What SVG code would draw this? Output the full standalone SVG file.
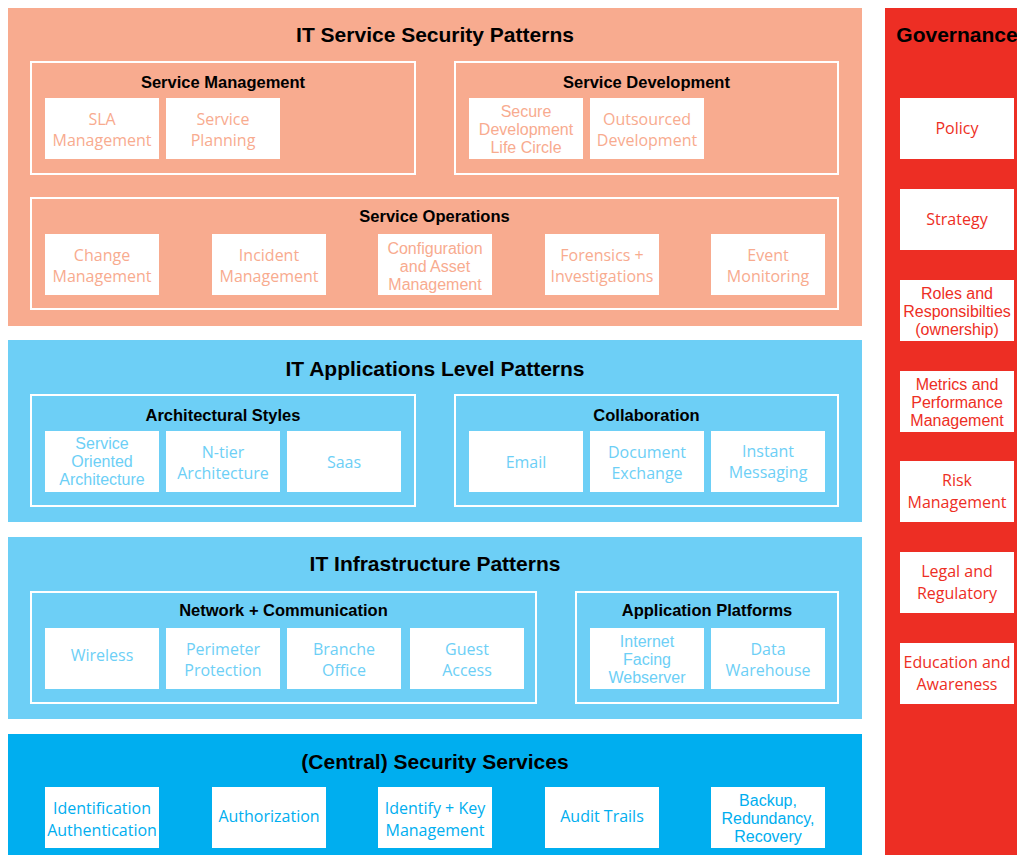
<svg xmlns="http://www.w3.org/2000/svg" width="1017" height="855" viewBox="0 0 1017 855">
<style>
.bg{fill:#ffffff}
.peach{fill:#f8ab8f}
.lblue{fill:#6dcff6}
.dblue{fill:#00aeef}
.red{fill:#ed2e24}
.cont{fill:none;stroke:#ffffff;stroke-width:2}
.box{fill:#ffffff}
.h1{font-family:"Liberation Sans",Arial,sans-serif;font-weight:bold;font-size:21px;fill:#000;text-anchor:middle}
.h2{font-family:"Liberation Sans",Arial,sans-serif;font-weight:bold;font-size:16.5px;fill:#000;text-anchor:middle}
.t{font-family:"Open Sans","Noto Sans",sans-serif;font-size:16px;text-anchor:middle}
.t3{font-family:"Liberation Sans",Arial,sans-serif;font-size:16px;text-anchor:middle}
.tp{fill:#f8ab8f}
.tl{fill:#6dcff6}
.td{fill:#00aeef}
.tr{fill:#ed2e24}
</style>
<rect class="bg" x="0" y="0" width="1017" height="855"/>

<!-- IT Service Security Patterns -->
<g id="it-service-security-patterns">
<rect class="peach" x="8" y="8" width="854" height="318"/>
<text class="h1" x="435" y="42">IT Service Security Patterns</text>
</g>
<g id="service-management">
<rect class="cont" x="31" y="62" width="384" height="112"/>
<text class="h2" x="223" y="88">Service Management</text>
</g>
<g id="sla-management"><rect class="box" x="45" y="98" width="114" height="61"/>
<text class="t tp" x="102" y="124.5">SLA<tspan x="102" dy="21">Management</tspan></text></g>
<g id="service-planning"><rect class="box" x="166" y="98" width="114" height="61"/>
<text class="t tp" x="223" y="124.5">Service<tspan x="223" dy="21">Planning</tspan></text></g>
<g id="service-development">
<rect class="cont" x="455" y="62" width="383" height="112"/>
<text class="h2" x="646.5" y="88">Service Development</text>
</g>
<g id="secure-development"><rect class="box" x="469" y="98" width="114" height="61"/>
<text class="t3 tp" x="526" y="116.5">Secure<tspan x="526" dy="18">Development</tspan><tspan x="526" dy="18">Life Circle</tspan></text></g>
<g id="outsourced-development"><rect class="box" x="590" y="98" width="114" height="61"/>
<text class="t tp" x="647" y="124.5">Outsourced<tspan x="647" dy="21">Development</tspan></text></g>
<g id="service-operations">
<rect class="cont" x="31" y="198" width="807" height="111"/>
<text class="h2" x="434.5" y="222">Service Operations</text>
</g>
<g id="change-management"><rect class="box" x="45" y="234" width="114" height="61"/>
<text class="t tp" x="102" y="260.5">Change<tspan x="102" dy="21.5">Management</tspan></text></g>
<g id="incident-management"><rect class="box" x="212" y="234" width="114" height="61"/>
<text class="t tp" x="269" y="260.5">Incident<tspan x="269" dy="21.5">Management</tspan></text></g>
<g id="configuration-asset-management"><rect class="box" x="378" y="234" width="114" height="61"/>
<text class="t3 tp" x="435" y="253.5">Configuration<tspan x="435" dy="18">and Asset</tspan><tspan x="435" dy="18">Management</tspan></text></g>
<g id="forensics-investigations"><rect class="box" x="545" y="234" width="114" height="61"/>
<text class="t tp" x="602" y="260.5">Forensics +<tspan x="602" dy="21.5">Investigations</tspan></text></g>
<g id="event-monitoring"><rect class="box" x="711" y="234" width="114" height="61"/>
<text class="t tp" x="768" y="260.5">Event<tspan x="768" dy="21.5">Monitoring</tspan></text></g>

<!-- IT Applications Level Patterns -->
<g id="it-applications-level-patterns">
<rect class="lblue" x="8" y="340" width="854" height="182"/>
<text class="h1" x="435" y="376">IT Applications Level Patterns</text>
</g>
<g id="architectural-styles">
<rect class="cont" x="31" y="395" width="384" height="111"/>
<text class="h2" x="223" y="421">Architectural Styles</text>
</g>
<g id="soa"><rect class="box" x="45" y="431" width="114" height="61"/>
<text class="t3 tl" x="102" y="449">Service<tspan x="102" dy="18">Oriented</tspan><tspan x="102" dy="18">Architecture</tspan></text></g>
<g id="n-tier"><rect class="box" x="166" y="431" width="114" height="61"/>
<text class="t tl" x="223" y="457.5">N-tier<tspan x="223" dy="21">Architecture</tspan></text></g>
<g id="saas"><rect class="box" x="287" y="431" width="114" height="61"/>
<text class="t tl" x="344" y="467.5">Saas</text></g>
<g id="collaboration">
<rect class="cont" x="455" y="395" width="383" height="111"/>
<text class="h2" x="646.5" y="421">Collaboration</text>
</g>
<g id="email"><rect class="box" x="469" y="431" width="114" height="61"/>
<text class="t tl" x="526" y="467.5">Email</text></g>
<g id="document-exchange"><rect class="box" x="590" y="431" width="114" height="61"/>
<text class="t tl" x="647" y="457.5">Document<tspan x="647" dy="21">Exchange</tspan></text></g>
<g id="instant-messaging"><rect class="box" x="711" y="431" width="114" height="61"/>
<text class="t tl" x="768" y="457">Instant<tspan x="768" dy="21">Messaging</tspan></text></g>

<!-- IT Infrastructure Patterns -->
<g id="it-infrastructure-patterns">
<rect class="lblue" x="8" y="537" width="854" height="182"/>
<text class="h1" x="435" y="571">IT Infrastructure Patterns</text>
</g>
<g id="network-communication">
<rect class="cont" x="31" y="592" width="505" height="111"/>
<text class="h2" x="283.5" y="616">Network + Communication</text>
</g>
<g id="wireless"><rect class="box" x="45" y="628" width="114" height="61"/>
<text class="t tl" x="102" y="661">Wireless</text></g>
<g id="perimeter-protection"><rect class="box" x="166" y="628" width="114" height="61"/>
<text class="t tl" x="223" y="655">Perimeter<tspan x="223" dy="21">Protection</tspan></text></g>
<g id="branche-office"><rect class="box" x="287" y="628" width="114" height="61"/>
<text class="t tl" x="344" y="655">Branche<tspan x="344" dy="21">Office</tspan></text></g>
<g id="guest-access"><rect class="box" x="410" y="628" width="114" height="61"/>
<text class="t tl" x="467" y="655">Guest<tspan x="467" dy="21">Access</tspan></text></g>
<g id="application-platforms">
<rect class="cont" x="576" y="592" width="262" height="111"/>
<text class="h2" x="707" y="616">Application Platforms</text>
</g>
<g id="internet-facing-webserver"><rect class="box" x="590" y="628" width="114" height="61"/>
<text class="t3 tl" x="647" y="647">Internet<tspan x="647" dy="18">Facing</tspan><tspan x="647" dy="18">Webserver</tspan></text></g>
<g id="data-warehouse"><rect class="box" x="711" y="628" width="114" height="61"/>
<text class="t tl" x="768" y="655">Data<tspan x="768" dy="21">Warehouse</tspan></text></g>

<!-- (Central) Security Services -->
<g id="central-security-services">
<rect class="dblue" x="8" y="734" width="854" height="121"/>
<text class="h1" x="435" y="769">(Central) Security Services</text>
</g>
<g id="identification-authentication"><rect class="box" x="45" y="787" width="114" height="61"/>
<text class="t td" x="102" y="813.5">Identification<tspan x="102" dy="22">Authentication</tspan></text></g>
<g id="authorization"><rect class="box" x="212" y="787" width="114" height="61"/>
<text class="t td" x="269" y="822">Authorization</text></g>
<g id="identify-key-management"><rect class="box" x="378" y="787" width="114" height="61"/>
<text class="t td" x="435" y="813.5">Identify + Key<tspan x="435" dy="22">Management</tspan></text></g>
<g id="audit-trails"><rect class="box" x="545" y="787" width="114" height="61"/>
<text class="t td" x="602" y="822">Audit Trails</text></g>
<g id="backup-redundancy-recovery"><rect class="box" x="711" y="787" width="114" height="61"/>
<text class="t3 td" x="768" y="806">Backup,<tspan x="768" dy="18">Redundancy,</tspan><tspan x="768" dy="18">Recovery</tspan></text></g>

<!-- Governance -->
<g id="governance">
<rect class="red" x="885" y="8" width="140" height="847"/>
<text class="h1" x="957" y="42">Governance</text>
</g>
<g id="policy"><rect class="box" x="900" y="98" width="114" height="61"/>
<text class="t tr" x="957" y="134">Policy</text></g>
<g id="strategy"><rect class="box" x="900" y="189" width="114" height="61"/>
<text class="t tr" x="957" y="225">Strategy</text></g>
<g id="roles-responsibilities"><rect class="box" x="900" y="280" width="114" height="61"/>
<text class="t3 tr" x="957" y="298.5">Roles and<tspan x="957" dy="18">Responsibilties</tspan><tspan x="957" dy="18">(ownership)</tspan></text></g>
<g id="metrics-performance"><rect class="box" x="900" y="371" width="114" height="61"/>
<text class="t3 tr" x="957" y="389.5">Metrics and<tspan x="957" dy="18">Performance</tspan><tspan x="957" dy="18">Management</tspan></text></g>
<g id="risk-management"><rect class="box" x="900" y="461" width="114" height="61"/>
<text class="t tr" x="957" y="486">Risk<tspan x="957" dy="21.5">Management</tspan></text></g>
<g id="legal-regulatory"><rect class="box" x="900" y="552" width="114" height="61"/>
<text class="t tr" x="957" y="577">Legal and<tspan x="957" dy="21.5">Regulatory</tspan></text></g>
<g id="education-awareness"><rect class="box" x="900" y="643" width="114" height="61"/>
<text class="t tr" x="957" y="668">Education and<tspan x="957" dy="21.5">Awareness</tspan></text></g>
</svg>
